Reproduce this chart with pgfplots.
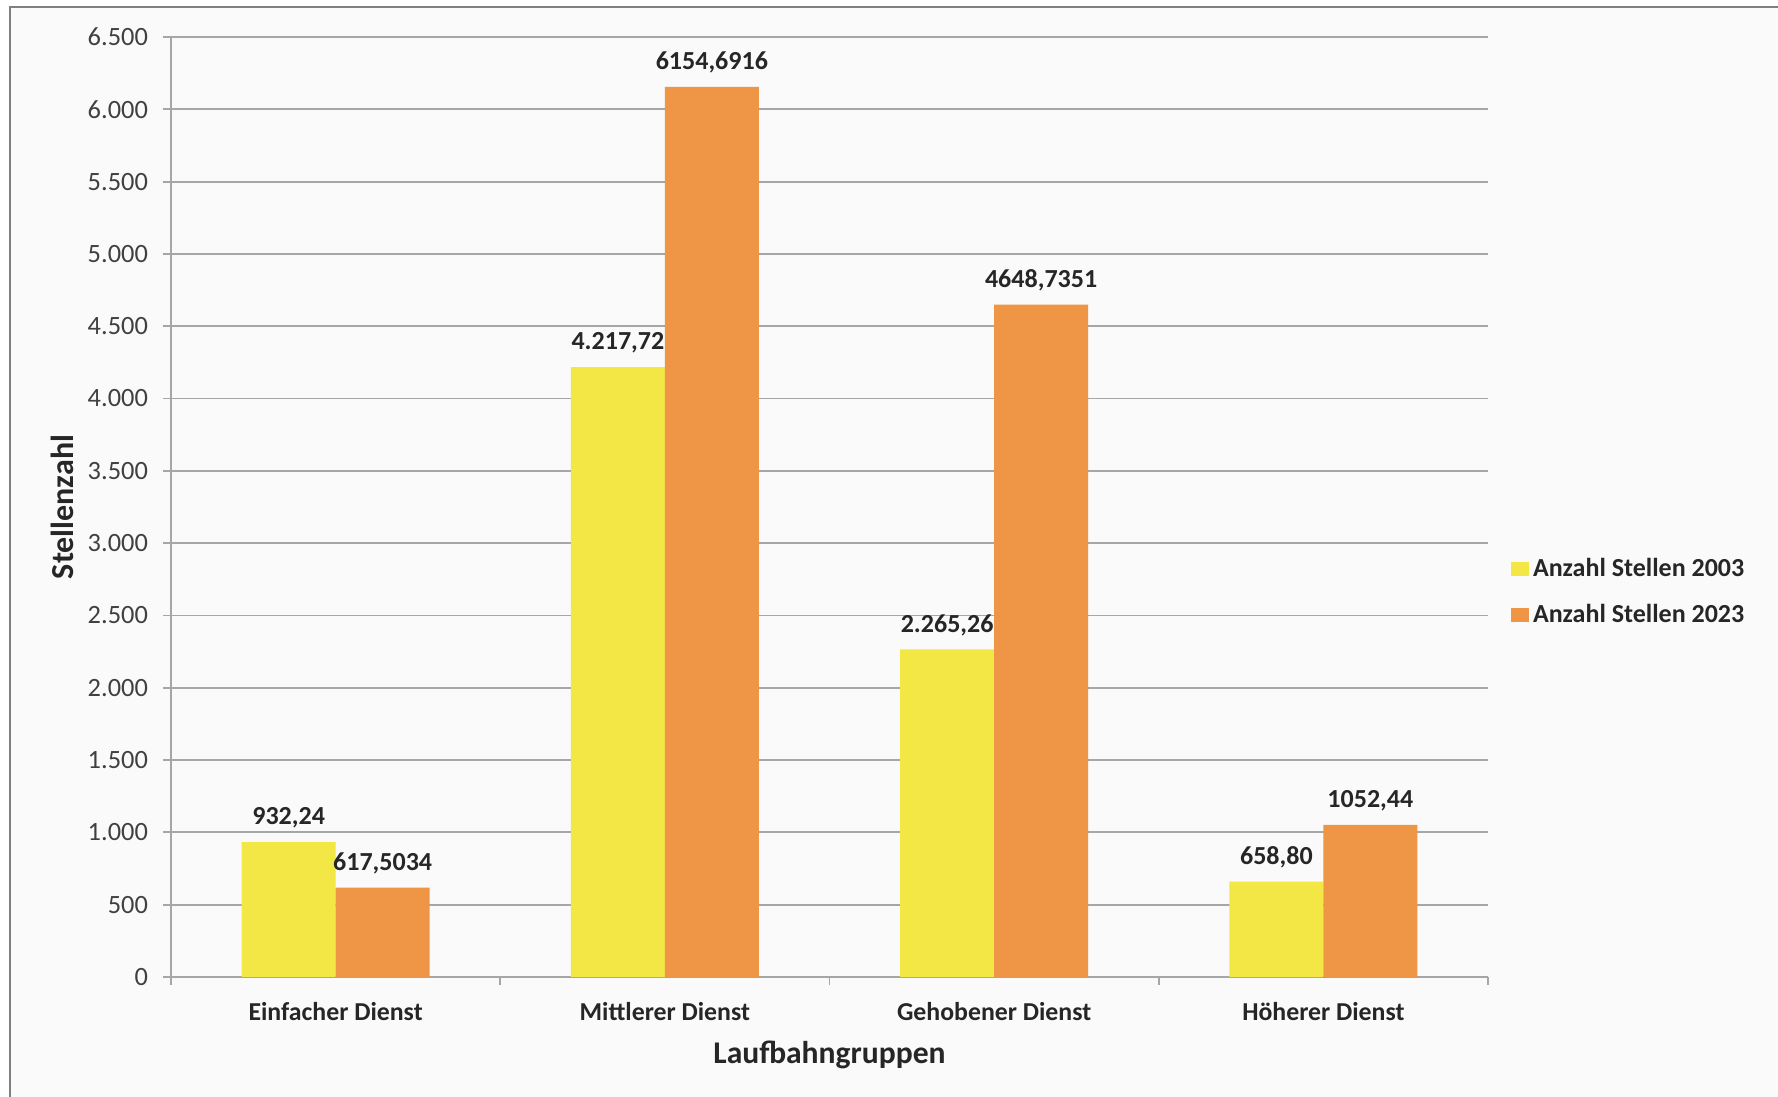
\documentclass[border=0pt]{standalone}
\usepackage{pgfplots}
\pgfplotsset{compat=1.18}
\usepackage{pgfplotstable}
\usepackage{fontspec}
\setmainfont{Carlito}
\definecolor{cyel}{HTML}{F2E744}
\definecolor{corg}{HTML}{EE9645}
\definecolor{cgrid}{HTML}{A6A6A6}
\definecolor{ctxt}{HTML}{262626}
\definecolor{ctick}{HTML}{404040}
\definecolor{cbg}{HTML}{FAFAFA}
\definecolor{cframe}{HTML}{808080}

\pgfplotstableread{
x y label
0 932.24 932,24
1 4217.72 4.217,72
2 2265.26 2.265,26
3 658.80 658,80
}\dataA
\pgfplotstableread{
x y label
0 617.5034 617,5034
1 6154.6916 6154,6916
2 4648.7351 4648,7351
3 1052.44 1052,44
}\dataB

\begin{document}
\begin{tikzpicture}
\fill[white] (-85.5pt,-60pt) rectangle (803.5pt,488.5pt);
\fill[cbg] (-80.5pt,-60pt) rectangle (803.5pt,485pt);
\draw[cframe, line width=1pt] (-80.5pt,-60pt) -- (-80.5pt,485pt) -- (803.5pt,485pt);
\begin{axis}[
  at={(0pt,0pt)}, anchor=south west,
  scale only axis, width=658.5pt, height=470pt,
  ymin=0, ymax=6500, ytick distance=500,
  xmin=-0.5, xmax=3.5,
  xtick={0,1,2,3},
  xticklabels={Einfacher Dienst, Mittlerer Dienst, Gehobener Dienst, Höherer Dienst},
  minor xtick={-0.5,0.5,1.5,2.5,3.5},
  axis x line*=bottom, axis y line*=left,
  axis line style={cgrid, line width=0.9pt},
  tick align=outside,
  major tick length=4pt, minor tick length=4pt,
  major x tick style={draw=none},
  tick style={cgrid, line width=0.9pt},
  ymajorgrids, grid style={cgrid, line width=0.9pt},
  /pgf/number format/assume math mode=true,
  /pgf/number format/.cd, fixed, use comma, 1000 sep={.}, /pgfplots/.cd,
  scaled y ticks=false,
  y tick label style={font=\fontsize{13.2}{15}\selectfont, color=ctick, anchor=east, xshift=-4pt},
  x tick label style={font=\bfseries\fontsize{12.9}{15}\selectfont, color=ctxt, anchor=base, yshift=-17.7pt},
  every axis x label/.style={at={(axis description cs:0.5,0)}, anchor=base, yshift=-43.2pt, font=\bfseries\fontsize{15.8}{18}\selectfont, color=ctxt},
  every axis y label/.style={at={(axis description cs:-0.0828,0.5)}, rotate=90, anchor=center, font=\bfseries\fontsize{16}{18}\selectfont, color=ctxt},
  xlabel={Laufbahngruppen},
  ylabel={Stellenzahl},
  ybar=0pt, bar width=47pt,
  nodes near coords,
  point meta=explicit symbolic,
  every node near coord/.append style={font=\bfseries\fontsize{13}{15}\selectfont, color=ctxt, inner sep=0pt, text depth=0pt, anchor=south, yshift=8.5pt},
  legend style={draw=none, fill=none, at={(axis description cs:1,0.4097)}, anchor=west, xshift=12.5pt,
    font=\bfseries\fontsize{13}{15}\selectfont, text=ctxt, row sep=8pt},
  legend cell align=left,
  legend image code/.code={\path (0pt,-3.5pt) rectangle (4.8pt,3.5pt); \fill[#1,overlay] (-4pt,-3.5pt) rectangle (3pt,3.5pt);},
]
\addplot[fill=cyel, draw=none] table[x=x, y=y, meta=label] {\dataA};
\addplot[fill=corg, draw=none] table[x=x, y=y, meta=label] {\dataB};
\legend{Anzahl Stellen 2003, Anzahl Stellen 2023}
\end{axis}
\pgfresetboundingbox
\useasboundingbox (-85.5pt,-60pt) rectangle (803.5pt,488.5pt);
\end{tikzpicture}
\end{document}
